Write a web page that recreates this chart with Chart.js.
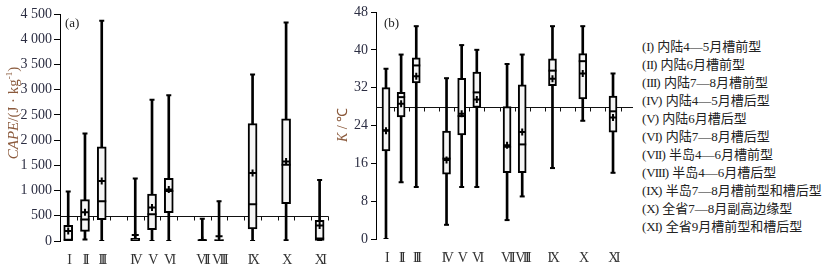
<!DOCTYPE html>
<html><head><meta charset="utf-8">
<script src="https://cdn.jsdelivr.net/npm/chart.js@4.4.0/dist/chart.umd.min.js"></script>
<style>
html,body{margin:0;padding:0;background:#fff;width:840px;height:266px;overflow:hidden;}
body{position:relative;}
.cv{position:absolute;top:0;}
.yt{position:absolute;transform:translate(-50%,-50%) rotate(-90deg);white-space:nowrap;font-family:"Liberation Serif",serif;color:#8b5a3c;line-height:1;}
.pl{position:absolute;font-family:"Liberation Serif",serif;font-size:13px;color:#222;line-height:1;}
#leg{position:absolute;left:642px;top:38px;font-family:"Liberation Serif","Noto Sans CJK SC",serif;font-size:13px;line-height:18px;color:#222;white-space:nowrap;}
#leg .r{letter-spacing:-1px;}
sup{font-size:9px;vertical-align:6px;line-height:0;}
</style></head><body>
<canvas id="ca" class="cv" style="left:0" width="335" height="266"></canvas>
<canvas id="cb" class="cv" style="left:335px" width="305" height="266"></canvas>
<div class="yt" style="left:13px;top:113px;font-size:15px"><i>CAPE</i>/(J · kg<sup>-1</sup>)</div>
<div class="yt" style="left:343px;top:125px;font-size:14px"><i>K</i> / ℃</div>
<div class="pl" style="left:65px;top:16px">(a)</div>
<div class="pl" style="left:384px;top:16px">(b)</div>
<div id="leg"></div>
<script>
// ---- data ----
const categories = ['I','II','III','IV','V','VI','VII','VIII','IX','X','XI'];
const slotPos = [0,1,2,4,5,6,8,9,11,13,15];
const legendNames = [
 '内陆4—5月槽前型','内陆6月槽前型','内陆7—8月槽前型','内陆4—5月槽后型',
 '内陆6月槽后型','内陆7—8月槽后型','半岛4—6月槽前型','半岛4—6月槽后型',
 '半岛7—8月槽前型和槽后型','全省7—8月副高边缘型','全省9月槽前型和槽后型'];
// panel (a) CAPE
const capeMin    = [0, 30, 0, 0, 0, 0, 0, 0, 0, 15, 0];
const capeQ1     = [0, 190, 425, 0, 225, 560, 0, 0, 240, 740, 0];
const capeMedian = [15, 425, 790, 10, 530, 990, 5, 5, 730, 1510, 50];
const capeQ3     = [310, 820, 1865, 55, 930, 1240, 30, 30, 2330, 2420, 410];
const capeMax    = [980, 2130, 4365, 1240, 2800, 2890, 440, 790, 3300, 4330, 1210];
const capeMean   = [200, 570, 1190, 120, 665, 1020, 20, 95, 1350, 1575, 305];
const capeRef = 500;
// panel (b) K index
const kMin    = [0, 12, 11, 3, 11, 11, 4, 9, 15, 25, 14];
const kQ1     = [18.6, 25.8, 33, 13.7, 22, 27.8, 14, 14, 32.4, 29.6, 22.6];
const kMedian = [23, 30, 36.7, 17, 26, 31, 19.5, 20, 35.6, 37.6, 27];
const kQ3     = [32, 31, 38.3, 22.8, 34, 35.3, 28, 32.6, 38.1, 39.2, 30.2];
const kMax    = [36, 39, 45, 34, 41, 40, 37, 39, 45, 45, 35];
const kMean   = [22.9, 28.6, 34.4, 16.7, 26.5, 29.5, 19.8, 22.6, 33.9, 35, 25.7];
const kRef = 28;

document.getElementById('leg').innerHTML = legendNames.map((s,i)=>'<div>(<span class="r">'+categories[i]+'</span>) '+s+'</div>').join('');

const refLine = {
  id:'refLine',
  beforeDatasetsDraw(chart, args, opts){
    const {ctx, chartArea, scales} = chart;
    const x = scales.x, y = scales.y;
    const py = Math.round(y.getPixelForValue(opts.value)) + 0.5;
    ctx.save();
    ctx.strokeStyle = '#111'; ctx.lineWidth = 1;
    ctx.beginPath();
    ctx.moveTo(chartArea.left, py); ctx.lineTo(chartArea.right, py);
    for (let k = 0; k < 16; k++) {
      const v = k + 0.5;
      if (v > x.max) break;
      const px = Math.round(x.getPixelForValue(v)) + 0.5;
      ctx.moveTo(px, py); ctx.lineTo(px, py + 4);
    }
    ctx.stroke();
    ctx.restore();
  }
};

function makeDatasets(mins, q1, med, q3, maxs, means, boxW, capR){
  const pts = arr => slotPos.map((p,i)=>({x:p, y:arr[i]}));
  return [
    {type:'bar', data: slotPos.map((p,i)=>({x:p, y:[mins[i], maxs[i]]})), backgroundColor:'#000', borderWidth:0, barThickness:2, grouped:false, order:5},
    {type:'bar', data: slotPos.map((p,i)=>({x:p, y:[q1[i], q3[i]]})), backgroundColor:'#f5f5f5', borderColor:'#000', borderWidth:2, borderSkipped:false, barThickness:boxW, grouped:false, order:4},
    {type:'line', data: pts(med), showLine:false, pointStyle:'line', pointRadius:boxW/2, pointBorderColor:'#000', pointBorderWidth:2, order:3},
    {type:'line', data: pts(maxs).concat(pts(mins)), showLine:false, pointStyle:'line', pointRadius:capR, pointBorderColor:'#000', pointBorderWidth:2, order:2},
    {type:'line', data: pts(means), showLine:false, pointStyle:'cross', pointRadius:3.5, pointBorderColor:'#000', pointBorderWidth:2, order:1}
  ];
}

function condenseLabels(s){
  if (s._condensed) return;
  s._condensed = true;
  const orig = s.drawLabels.bind(s);
  s.drawLabels = function(area){
    const ctx = s.ctx;
    ctx.save();
    ctx.letterSpacing = '-2.5px';
    orig(area);
    ctx.restore();
  };
}

function makeOptions(c){
  return {
    responsive:false, animation:false, events:[],
    layout:{padding:{top:c.top, right:c.right, left:0, bottom:0}},
    plugins:{legend:{display:false}, tooltip:{enabled:false}, refLine:{value:c.ref}},
    scales:{
      x:{type:'linear', min:c.xmin, max:c.xmax, offset:false,
         grid:{display:false}, border:{display:false},
         afterBuildTicks: s => { s.ticks = slotPos.map(v=>({value:v})); },
         afterFit: s => { s.height = c.xh; condenseLabels(s); },
         ticks:{autoSkip:false, maxRotation:0, padding:c.xpad, color:'#333',
                font:{family:'Liberation Serif', size:14},
                callback: v => { const i = slotPos.indexOf(v); return i >= 0 ? categories[i] : ''; }}},
      y:{type:'linear', min:0, max:c.ymax,
         afterFit: s => { s.width = c.yw; },
         grid:{display:true, drawOnChartArea:false, tickLength:c.tl, color:'#000', lineWidth:1},
         border:{display:true, color:'#000', width:1},
         ticks:{stepSize:c.step, padding:c.ypad, color:'#2b2d42', font:{family:'Liberation Serif', size:14}, callback:c.fmt}}
    }
  };
}

const fmtCape = v => v >= 1000 ? Math.floor(v/1000) + ' ' + String(v % 1000).padStart(3,'0') : String(v);

new Chart(document.getElementById('ca'), {
  type:'bar',
  data:{datasets: makeDatasets(capeMin, capeQ1, capeMedian, capeQ3, capeMax, capeMean, 9, 2.5)},
  options: makeOptions({top:14, right:5, ref:capeRef, xmin:-0.49, xmax:15.53, xh:25, xpad:3, ymax:4500, step:500, yw:60, tl:6, ypad:2, fmt:fmtCape}),
  plugins:[refLine]
});

new Chart(document.getElementById('cb'), {
  type:'bar',
  data:{datasets: makeDatasets(kMin, kQ1, kMedian, kQ3, kMax, kMean, 8, 2.5)},
  options: makeOptions({top:12, right:7, ref:kRef, xmin:-0.66, xmax:16.32, xh:27, xpad:3, ymax:48, step:4, yw:41, tl:5, ypad:3, fmt:v=>String(v)}),
  plugins:[refLine]
});
</script>
</body></html>
